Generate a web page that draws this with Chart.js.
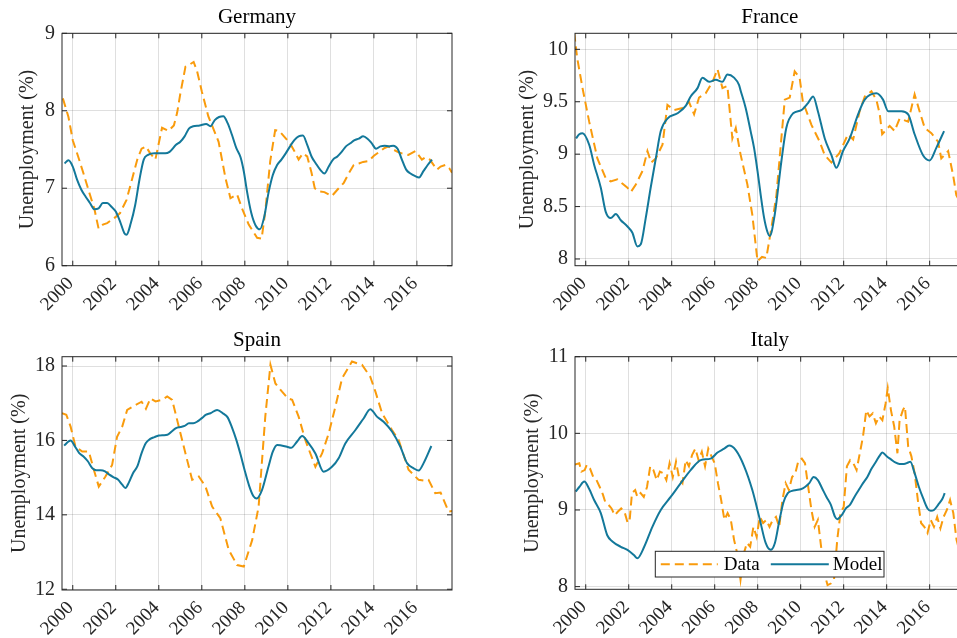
<!DOCTYPE html>
<html>
<head>
<meta charset="utf-8">
<title>Unemployment: data vs model</title>
<script src="https://cdn.jsdelivr.net/npm/chart.js@4.4.1/dist/chart.umd.min.js"></script>
<style>
  html, body { margin: 0; padding: 0; background: #fff; }
  body { width: 957px; height: 638px; position: relative; overflow: hidden; }
  canvas { position: absolute; }
  #germany { left: 0; top: 0; }
  #france { left: 478px; top: 0; }
  #spain { left: 0; top: 320px; }
  #italy { left: 478px; top: 320px; }
</style>
</head>
<body>
<canvas id="germany" width="470" height="320"></canvas>
<canvas id="france" width="500" height="320"></canvas>
<canvas id="spain" width="470" height="318"></canvas>
<canvas id="italy" width="500" height="318"></canvas>
<script>
// x axis (years) shared by all four panels
const yearTicks = [2000, 2002, 2004, 2006, 2008, 2010, 2012, 2014, 2016];
const xMin = 1999.5, xMax = 2017.63;

// Germany
const deDataT = [1999.54, 1999.8, 2000.0, 2000.25, 2000.5, 2000.75, 2001.0, 2001.2, 2001.4, 2001.6,
  2001.8, 2002.0, 2002.2, 2002.5, 2002.75, 2003.0, 2003.2, 2003.4, 2003.6, 2003.84,
  2004.15, 2004.45, 2004.7, 2004.85, 2005.0, 2005.24, 2005.45, 2005.62, 2005.78, 2006.0,
  2006.3, 2006.78, 2007.1, 2007.33, 2007.64, 2007.87, 2008.18, 2008.57, 2008.78, 2008.95,
  2009.18, 2009.41, 2009.6, 2009.85, 2010.1, 2010.3, 2010.5, 2010.7, 2010.9, 2011.1,
  2011.25, 2011.43, 2011.7, 2011.9, 2012.05, 2012.3, 2012.6, 2012.85, 2013.06, 2013.3,
  2013.5, 2013.75, 2014.0, 2014.3, 2014.5, 2014.68, 2014.9, 2015.1, 2015.3, 2015.6,
  2015.93, 2016.23, 2016.4, 2016.6, 2016.93, 2017.1, 2017.32, 2017.5, 2017.63];
const deDataU = [8.16, 7.92, 7.62, 7.41, 7.19, 6.96, 6.74, 6.48, 6.53, 6.55,
  6.59, 6.63, 6.68, 6.85, 7.11, 7.37, 7.51, 7.54, 7.45, 7.37,
  7.78, 7.74, 7.81, 7.97, 8.22, 8.57, 8.60, 8.63, 8.51, 8.25,
  7.93, 7.60, 7.13, 6.87, 6.92, 6.74, 6.53, 6.36, 6.35, 6.70,
  7.35, 7.75, 7.74, 7.66, 7.58, 7.48, 7.37, 7.45, 7.41, 7.20,
  7.00, 6.96, 6.95, 6.92, 6.90, 6.98, 7.07, 7.20, 7.30, 7.32,
  7.34, 7.35, 7.42, 7.48, 7.52, 7.54, 7.50, 7.47, 7.45, 7.43,
  7.48, 7.37, 7.40, 7.37, 7.24, 7.28, 7.30, 7.26, 7.20];
const deModelT = [1999.62, 1999.8, 2000.0, 2000.2, 2000.4, 2000.6, 2000.8, 2001.0, 2001.2, 2001.4,
  2001.6, 2001.8, 2002.0, 2002.2, 2002.4, 2002.5, 2002.7, 2002.9, 2003.1, 2003.3,
  2003.5, 2003.8, 2004.0, 2004.3, 2004.5, 2004.8, 2005.0, 2005.2, 2005.4, 2005.6,
  2005.9, 2006.2, 2006.4, 2006.6, 2006.8, 2007.0, 2007.2, 2007.4, 2007.6, 2007.8,
  2007.95, 2008.1, 2008.3, 2008.5, 2008.7, 2008.9, 2009.1, 2009.3, 2009.5, 2009.7,
  2009.9, 2010.1, 2010.3, 2010.5, 2010.7, 2010.9, 2011.1, 2011.3, 2011.5, 2011.7,
  2011.9, 2012.1, 2012.3, 2012.5, 2012.7, 2012.9, 2013.1, 2013.3, 2013.5, 2013.7,
  2013.9, 2014.1, 2014.3, 2014.5, 2014.7, 2014.9, 2015.1, 2015.3, 2015.5, 2015.7,
  2015.9, 2016.1, 2016.3, 2016.5, 2016.7];
const deModelU = [7.32, 7.36, 7.28, 7.11, 6.98, 6.89, 6.81, 6.73, 6.74, 6.81,
  6.81, 6.76, 6.70, 6.57, 6.42, 6.40, 6.55, 6.78, 7.11, 7.37,
  7.43, 7.45, 7.45, 7.45, 7.47, 7.56, 7.60, 7.67, 7.77, 7.80,
  7.81, 7.83, 7.80, 7.88, 7.92, 7.93, 7.84, 7.69, 7.52, 7.40,
  7.22, 6.96, 6.68, 6.52, 6.47, 6.63, 6.94, 7.17, 7.30, 7.37,
  7.45, 7.54, 7.62, 7.67, 7.68, 7.56, 7.41, 7.32, 7.24, 7.19,
  7.28, 7.37, 7.41, 7.47, 7.54, 7.58, 7.62, 7.64, 7.67, 7.64,
  7.58, 7.51, 7.54, 7.55, 7.54, 7.55, 7.51, 7.37, 7.24, 7.19,
  7.16, 7.14, 7.22, 7.30, 7.37];
const deTicks = [6, 7, 8, 9];

// France
const frDataT = [1999.46, 1999.6, 1999.85, 2000.16, 2000.54, 2000.93, 2001.16, 2001.47, 2001.7, 2001.94,
  2002.1, 2002.33, 2002.64, 2002.87, 2003.05, 2003.26, 2003.57, 2003.8, 2004.11, 2004.5,
  2004.8, 2005.04, 2005.27, 2005.58, 2005.9, 2006.13, 2006.36, 2006.59, 2006.82, 2006.98,
  2007.2, 2007.52, 2007.75, 2007.99, 2008.2, 2008.4, 2008.64, 2008.87, 2009.1, 2009.26,
  2009.49, 2009.72, 2009.95, 2010.1, 2010.5, 2010.88, 2011.12, 2011.43, 2011.8, 2012.2,
  2012.44, 2012.74, 2012.98, 2013.29, 2013.52, 2013.68, 2013.79, 2014.14, 2014.37, 2014.6,
  2015.0, 2015.3, 2015.53, 2015.77, 2016.08, 2016.39, 2016.54, 2016.86, 2017.09, 2017.24,
  2017.4, 2017.63];
const frDataU = [10.16, 9.92, 9.63, 9.31, 8.96, 8.77, 8.74, 8.76, 8.72, 8.68,
  8.64, 8.71, 8.84, 9.03, 8.92, 8.96, 9.09, 9.47, 9.42, 9.44,
  9.50, 9.38, 9.54, 9.58, 9.69, 9.81, 9.63, 9.65, 9.15, 9.25,
  9.00, 8.71, 8.42, 7.98, 8.02, 8.01, 8.30, 8.61, 9.15, 9.52,
  9.54, 9.79, 9.73, 9.50, 9.28, 9.12, 8.99, 8.92, 9.01, 9.19,
  9.14, 9.41, 9.55, 9.60, 9.52, 9.38, 9.19, 9.27, 9.22, 9.34,
  9.31, 9.57, 9.41, 9.25, 9.20, 9.12, 8.96, 9.03, 8.80, 8.61,
  8.55, 8.50];
const frModelT = [1999.55, 1999.7, 1999.85, 2000.16, 2000.39, 2000.7, 2000.93, 2001.16, 2001.4, 2001.63,
  2001.94, 2002.17, 2002.4, 2002.56, 2002.79, 2003.02, 2003.26, 2003.49, 2003.8, 2004.27,
  2004.65, 2004.88, 2005.2, 2005.43, 2005.74, 2006.05, 2006.36, 2006.59, 2006.9, 2007.13,
  2007.2, 2007.44, 2007.67, 2007.83, 2007.99, 2008.14, 2008.3, 2008.45, 2008.56, 2008.79,
  2009.1, 2009.33, 2009.65, 2010.03, 2010.35, 2010.58, 2010.8, 2011.12, 2011.43, 2011.66,
  2011.97, 2012.28, 2012.67, 2012.98, 2013.52, 2013.83, 2014.07, 2014.69, 2015.0, 2015.3,
  2015.69, 2016.0, 2016.31, 2016.67];
const frModelU = [9.15, 9.19, 9.20, 9.09, 8.90, 8.68, 8.45, 8.39, 8.43, 8.37,
  8.31, 8.25, 8.12, 8.14, 8.39, 8.68, 8.96, 9.22, 9.34, 9.39,
  9.46, 9.55, 9.63, 9.73, 9.69, 9.71, 9.69, 9.76, 9.73, 9.66,
  9.61, 9.44, 9.22, 9.06, 8.84, 8.61, 8.39, 8.26, 8.22, 8.42,
  8.93, 9.25, 9.39, 9.42, 9.49, 9.55, 9.41, 9.15, 8.99, 8.87,
  9.03, 9.15, 9.38, 9.52, 9.58, 9.52, 9.41, 9.41, 9.38, 9.19,
  8.99, 8.94, 9.06, 9.22];
const frTicks = [8, 8.5, 9, 9.5, 10];

// Spain
const esDataT = [1999.5, 1999.7, 1999.9, 2000.13, 2000.44, 2000.75, 2000.98, 2001.21, 2001.52, 2001.83,
  2002.06, 2002.3, 2002.53, 2002.91, 2003.2, 2003.4, 2003.61, 2003.85, 2004.15, 2004.39,
  2004.62, 2004.93, 2005.24, 2005.55, 2005.86, 2006.17, 2006.48, 2006.86, 2007.25, 2007.64,
  2007.95, 2008.34, 2008.64, 2008.95, 2009.19, 2009.42, 2009.73, 2010.0, 2010.2, 2010.5,
  2010.81, 2011.28, 2011.59, 2011.9, 2012.21, 2012.52, 2012.98, 2013.45, 2013.83, 2014.07,
  2014.38, 2014.84, 2015.15, 2015.61, 2016.08, 2016.3, 2016.54, 2016.85, 2017.1, 2017.47,
  2017.63];
const esDataU = [16.73, 16.69, 16.37, 15.83, 15.70, 15.70, 15.21, 14.76, 15.03, 15.34,
  16.10, 16.37, 16.82, 16.95, 17.04, 16.85, 17.13, 17.05, 17.09, 17.18,
  17.09, 16.37, 15.65, 14.94, 15.03, 14.76, 14.22, 13.91, 13.06, 12.65,
  12.61, 13.32, 14.22, 16.64, 18.03, 17.53, 17.31, 17.13, 17.09, 16.64,
  16.01, 15.29, 15.65, 16.19, 16.91, 17.67, 18.12, 18.03, 17.71, 17.31,
  16.73, 16.28, 16.01, 15.21, 14.94, 14.92, 14.94, 14.58, 14.60, 14.09,
  14.10];
const esModelT = [1999.6, 1999.8, 1999.9, 2000.1, 2000.3, 2000.5, 2000.7, 2000.9, 2001.1, 2001.3,
  2001.5, 2001.7, 2001.9, 2002.1, 2002.3, 2002.45, 2002.6, 2002.8, 2003.0, 2003.2,
  2003.4, 2003.6, 2003.8, 2004.0, 2004.2, 2004.4, 2004.6, 2004.8, 2005.0, 2005.2,
  2005.4, 2005.6, 2005.8, 2006.0, 2006.2, 2006.4, 2006.71, 2007.0, 2007.2, 2007.4,
  2007.6, 2007.8, 2008.0, 2008.2, 2008.4, 2008.55, 2008.8, 2009.1, 2009.3, 2009.5,
  2009.96, 2010.15, 2010.43, 2010.66, 2010.97, 2011.28, 2011.66, 2012.05, 2012.36, 2012.67,
  2013.14, 2013.52, 2013.83, 2014.14, 2014.45, 2014.84, 2015.23, 2015.54, 2015.85, 2016.08,
  2016.31, 2016.67];
const esModelU = [15.86, 15.97, 16.00, 15.84, 15.66, 15.57, 15.44, 15.26, 15.20, 15.20,
  15.17, 15.08, 15.01, 14.95, 14.81, 14.72, 14.86, 15.12, 15.30, 15.66,
  15.93, 16.04, 16.09, 16.13, 16.14, 16.15, 16.24, 16.33, 16.36, 16.39,
  16.46, 16.46, 16.51, 16.60, 16.69, 16.73, 16.82, 16.72, 16.62, 16.35,
  16.02, 15.62, 15.18, 14.78, 14.50, 14.44, 14.67, 15.30, 15.70, 15.88,
  15.83, 15.80, 15.97, 16.12, 15.92, 15.65, 15.16, 15.29, 15.52, 15.92,
  16.28, 16.59, 16.84, 16.64, 16.50, 16.24, 15.83, 15.39, 15.25, 15.19,
  15.39, 15.85];
const esTicks = [12, 14, 16, 18];

// Italy
const itDataT = [1999.46, 1999.7, 1999.8, 1999.95, 2000.05, 2000.2, 2000.35, 2000.5, 2000.65, 2000.8,
  2000.9, 2001.05, 2001.2, 2001.35, 2001.5, 2001.65, 2001.8, 2001.95, 2002.05, 2002.15,
  2002.3, 2002.4, 2002.55, 2002.7, 2002.85, 2003.0, 2003.15, 2003.3, 2003.45, 2003.6,
  2003.75, 2003.9, 2004.05, 2004.2, 2004.35, 2004.5, 2004.65, 2004.8, 2004.95, 2005.1,
  2005.25, 2005.4, 2005.55, 2005.7, 2005.85, 2006.0, 2006.15, 2006.3, 2006.45, 2006.6,
  2006.75, 2006.9, 2007.05, 2007.2, 2007.35, 2007.5, 2007.65, 2007.8, 2007.95, 2008.1,
  2008.25, 2008.4, 2008.55, 2008.7, 2008.85, 2009.0, 2009.15, 2009.3, 2009.45, 2009.6,
  2009.75, 2009.9, 2010.05, 2010.2, 2010.35, 2010.5, 2010.65, 2010.8, 2010.95, 2011.1,
  2011.25, 2011.4, 2011.55, 2011.7, 2011.85, 2012.0, 2012.15, 2012.3, 2012.45, 2012.6,
  2012.75, 2012.9, 2013.05, 2013.2, 2013.35, 2013.5, 2013.65, 2013.8, 2013.95, 2014.05,
  2014.2, 2014.35, 2014.5, 2014.6, 2014.75, 2014.85, 2015.0, 2015.15, 2015.3, 2015.45,
  2015.6, 2015.75, 2015.9, 2016.05, 2016.2, 2016.35, 2016.5, 2016.65, 2016.8, 2016.95,
  2017.1, 2017.25, 2017.4, 2017.63];
const itDataU = [9.59, 9.61, 9.50, 9.52, 9.59, 9.54, 9.43, 9.39, 9.30, 9.20,
  9.11, 9.07, 9.02, 8.93, 8.98, 9.02, 8.98, 8.83, 8.89, 9.22,
  9.26, 9.17, 9.22, 9.17, 9.30, 9.57, 9.52, 9.39, 9.50, 9.48,
  9.39, 9.61, 9.43, 9.63, 9.41, 9.35, 9.65, 9.57, 9.72, 9.80,
  9.65, 9.76, 9.57, 9.80, 9.70, 9.61, 9.35, 9.13, 8.87, 8.96,
  8.87, 8.61, 8.43, 8.09, 8.43, 8.57, 8.52, 8.78, 8.65, 8.91,
  8.83, 8.87, 8.78, 8.87, 8.91, 8.78, 9.13, 9.35, 9.26, 9.43,
  9.48, 9.65, 9.67, 9.61, 9.30, 9.00, 8.78, 8.87, 8.52, 8.17,
  8.02, 8.04, 8.09, 8.61, 8.96, 9.04, 9.57, 9.65, 9.61, 9.52,
  9.74, 9.96, 10.30, 10.22, 10.26, 10.13, 10.22, 10.17, 10.39, 10.59,
  10.30, 10.09, 9.74, 10.17, 10.30, 10.35, 9.83, 9.70, 9.48, 9.13,
  8.83, 8.78, 8.70, 8.87, 8.78, 8.91, 8.76, 8.91, 9.00, 9.13,
  8.96, 8.61, 8.45, 8.40];
const itModelT = [1999.53, 1999.7, 1999.93, 2000.15, 2000.39, 2000.7, 2001.0, 2001.24, 2001.63, 2001.94,
  2002.25, 2002.4, 2002.72, 2003.1, 2003.49, 2003.95, 2004.42, 2004.88, 2005.35, 2005.81,
  2006.13, 2006.44, 2006.67, 2006.98, 2007.37, 2007.75, 2008.07, 2008.37, 2008.6, 2008.8,
  2009.0, 2009.2, 2009.4, 2009.6, 2009.8, 2010.0, 2010.2, 2010.4, 2010.6, 2010.8,
  2011.0, 2011.2, 2011.4, 2011.6, 2011.7, 2011.9, 2012.1, 2012.3, 2012.5, 2012.7,
  2012.9, 2013.1, 2013.3, 2013.5, 2013.7, 2013.8, 2014.0, 2014.2, 2014.4, 2014.6,
  2014.8, 2015.0, 2015.1, 2015.3, 2015.5, 2015.7, 2015.9, 2016.05, 2016.2, 2016.4,
  2016.6, 2016.7];
const itModelU = [9.24, 9.30, 9.37, 9.28, 9.13, 8.96, 8.67, 8.59, 8.52, 8.48,
  8.41, 8.37, 8.52, 8.78, 9.00, 9.17, 9.35, 9.52, 9.65, 9.67,
  9.75, 9.80, 9.84, 9.78, 9.57, 9.26, 8.91, 8.57, 8.48, 8.57,
  8.85, 9.10, 9.22, 9.25, 9.26, 9.27, 9.30, 9.35, 9.43, 9.39,
  9.28, 9.17, 9.07, 8.91, 8.88, 8.93, 9.02, 9.07, 9.17, 9.26,
  9.35, 9.43, 9.54, 9.63, 9.72, 9.75, 9.70, 9.66, 9.62, 9.60,
  9.60, 9.62, 9.63, 9.48, 9.30, 9.15, 9.02, 8.99, 9.00, 9.07,
  9.15, 9.22];
const itTicks = [8, 9, 10, 11];

const dataColor = '#f99b0c';
const modelColor = '#13789a';
const axisColor = '#262626';
const gridColor = 'rgba(38,38,38,0.15)';
const serif = "'Liberation Serif', 'Times New Roman', serif";

function pairs(t, u) {
    return t.map((x, i) => ({ x: x, y: u[i] }));
}

// box around the axes with small inward ticks on all four sides
const axesBox = {
    id: 'axesBox',
    afterDatasetsDraw(chart) {
        const { ctx, chartArea: a, scales } = chart;
        ctx.save();
        ctx.strokeStyle = axisColor;
        ctx.lineWidth = 1;
        ctx.beginPath();
        scales.x.ticks.forEach(t => {
            const px = scales.x.getPixelForValue(t.value);
            ctx.moveTo(px, a.bottom); ctx.lineTo(px, a.bottom - 5);
            ctx.moveTo(px, a.top); ctx.lineTo(px, a.top + 5);
        });
        scales.y.ticks.forEach(t => {
            const py = scales.y.getPixelForValue(t.value);
            ctx.moveTo(a.left, py); ctx.lineTo(a.left + 5, py);
            ctx.moveTo(a.right, py); ctx.lineTo(a.right - 5, py);
        });
        ctx.stroke();
        ctx.strokeRect(a.left, a.top, a.right - a.left, a.bottom - a.top);
        ctx.restore();
    }
};

// legend box drawn inside the plot (only used on the Italy panel)
const boxLegend = {
    id: 'boxLegend',
    afterDraw(chart, args, opts) {
        if (!opts || !opts.show) return;
        const { ctx, chartArea: a } = chart;
        const x0 = a.left + opts.left, y0 = a.top + opts.top;
        ctx.save();
        ctx.fillStyle = '#fff';
        ctx.fillRect(x0, y0, opts.width, opts.height);
        ctx.strokeStyle = axisColor;
        ctx.lineWidth = 1;
        ctx.strokeRect(x0, y0, opts.width, opts.height);
        ctx.font = '19px ' + serif;
        ctx.textBaseline = 'alphabetic';
        const slots = [[5.5, 62.5, 68.5], [115.5, 173.5, 177.5]]; // sample start, sample end, text start
        chart.data.datasets.forEach((ds, i) => {
            const s = slots[i];
            ctx.strokeStyle = ds.borderColor;
            ctx.lineWidth = ds.borderWidth;
            ctx.setLineDash(ds.borderDash || []);
            ctx.beginPath();
            ctx.moveTo(x0 + s[0], y0 + 13);
            ctx.lineTo(x0 + s[1], y0 + 13);
            ctx.stroke();
            ctx.setLineDash([]);
            ctx.fillStyle = '#000';
            ctx.fillText(ds.label, x0 + s[2], y0 + 18.5);
        });
        ctx.restore();
    }
};

function drawPanel(id, name, dataT, dataU, modelT, modelU, yMin, yMax, yTicks, frame, legend) {
    return new Chart(document.getElementById(id), {
        type: 'line',
        data: {
            datasets: [
                { label: 'Data', data: pairs(dataT, dataU), borderColor: dataColor, borderWidth: 2,
                  borderDash: [9, 5], pointRadius: 0, order: 1 },
                { label: 'Model', data: pairs(modelT, modelU), borderColor: modelColor, borderWidth: 2,
                  pointRadius: 0, cubicInterpolationMode: 'monotone', order: 0 }
            ]
        },
        options: {
            responsive: false,
            animation: false,
            layout: { padding: { left: 0, top: 0, bottom: 0, right: frame.right } },
            scales: {
                x: {
                    type: 'linear', min: xMin, max: xMax,
                    afterBuildTicks: s => { s.ticks = yearTicks.map(v => ({ value: v })); },
                    afterFit: s => { s.height = frame.xHeight; },
                    grid: { color: gridColor, drawTicks: false },
                    border: { display: false },
                    ticks: { font: { family: serif, size: 19 }, color: axisColor, minRotation: 45, maxRotation: 45,
                             padding: 7, labelOffset: -2, autoSkip: false, callback: v => String(v) }
                },
                y: {
                    type: 'linear', min: yMin, max: yMax,
                    afterBuildTicks: s => { s.ticks = yTicks.map(v => ({ value: v })); },
                    afterFit: s => { s.width = frame.yWidth; },
                    grid: { color: gridColor, drawTicks: false },
                    border: { display: false },
                    ticks: { font: { family: serif, size: 20 }, color: axisColor, padding: 7, callback: v => String(v) },
                    title: { display: true, text: 'Unemployment (%)', color: axisColor,
                             font: { family: serif, size: 20 }, padding: { top: frame.yTitlePad, bottom: 0 } }
                }
            },
            plugins: {
                legend: { display: false },
                tooltip: { enabled: false },
                title: { display: true, text: name, fullSize: false, color: '#000',
                         font: { family: serif, size: 21, weight: 'normal' },
                         padding: { top: frame.titleTop, bottom: frame.titleBottom } },
                boxLegend: legend || { show: false }
            }
        },
        plugins: [axesBox, boxLegend]
    });
}

drawPanel('germany', 'Germany', deDataT, deDataU, deModelT, deModelU, 6, 9, deTicks,
    { right: 18, yWidth: 62, xHeight: 54.3, titleTop: 4.6, titleBottom: 3.5, yTitlePad: 15.6 });
drawPanel('france', 'France', frDataT, frDataU, frModelT, frModelU, 7.936, 10.153, frTicks,
    { right: 13.3, yWidth: 97, xHeight: 54.3, titleTop: 4.6, titleBottom: 3.5, yTitlePad: 37.3 });
drawPanel('spain', 'Spain', esDataT, esDataU, esModelT, esModelU, 11.98, 18.25, esTicks,
    { right: 18, yWidth: 62, xHeight: 48, titleTop: 7.4, titleBottom: 4.1, yTitlePad: 7.3 });
drawPanel('italy', 'Italy', itDataT, itDataU, itModelT, itModelU, 7.965, 11, itTicks,
    { right: 13.3, yWidth: 97, xHeight: 48.7, titleTop: 7.4, titleBottom: 4.1, yTitlePad: 42.3 },
    { show: true, left: 80.3, top: 194.6, width: 228.7, height: 25.7 });
</script>
</body>
</html>
